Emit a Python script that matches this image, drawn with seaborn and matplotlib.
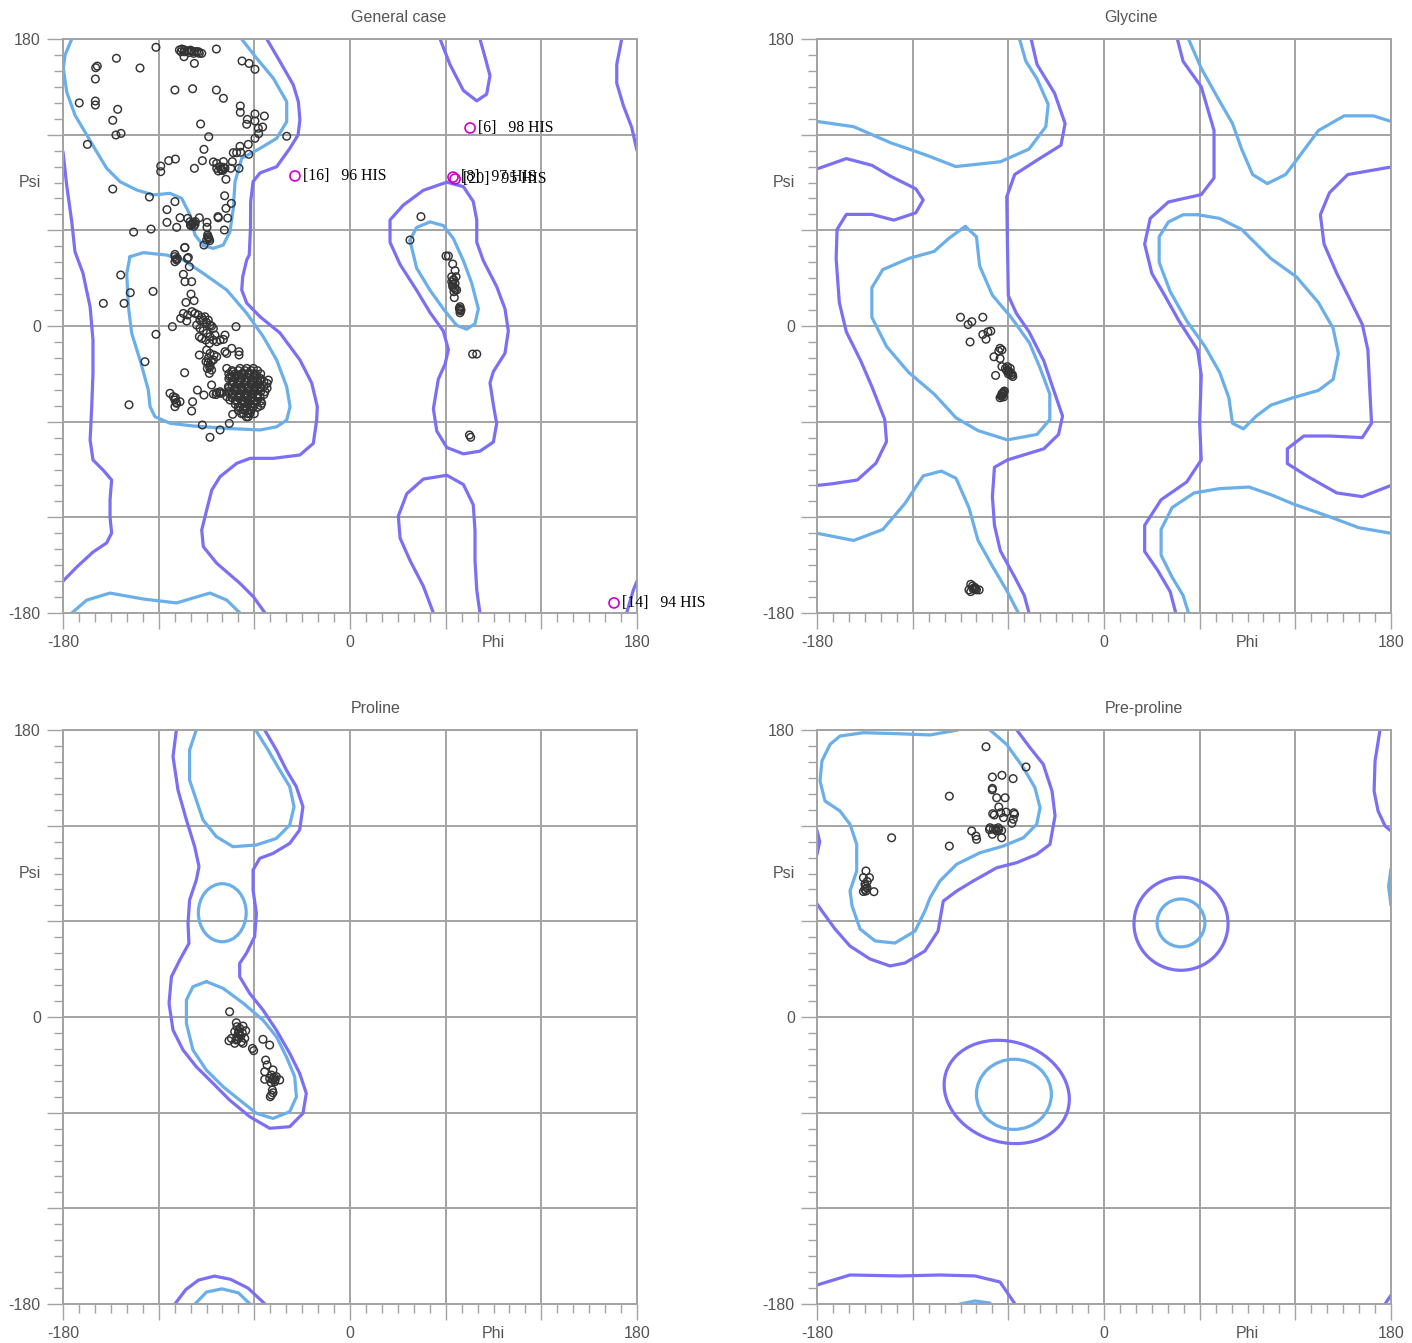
import matplotlib
matplotlib.use("Agg")
import matplotlib.pyplot as plt
from matplotlib.patches import Ellipse
import seaborn as sns
import pandas as pd

# ---------------- contours (phi, psi) ----------------
# General case
gen_outer_left = [(-180, 109.3), (-177.7, 88.4), (-174.5, 65.4), (-172.5, 46.6), (-167.5, 33.2), (-163, 12),
                  (-161.2, -8.8), (-161.2, -29.5), (-162, -50.8), (-163, -71.5), (-161.2, -84), (-154.9, -90.3),
                  (-149.5, -96.6), (-150.5, -109), (-150.5, -119.8), (-149.5, -129.8), (-152.6, -136),
                  (-161.2, -141.8), (-171.4, -151.2), (-180, -160)]
gen_outer_main = [(-52.2, 180), (-43.9, 165.8), (-35.5, 151.1), (-32.4, 140.7), (-31.4, 129.2), (-32.6, 119.8),
                  (-37.6, 111.6), (-46, 99.9), (-56.4, 96), (-60.8, 90.5), (-62.3, 78), (-62.4, 61.5),
                  (-63.2, 44.5), (-64.8, 41.4), (-67.3, 30.9), (-67.9, 22.6), (-64.8, 14.4), (-56.4, 5.8),
                  (-43.9, -4.4), (-31.4, -21.3), (-24, -35.8), (-20.5, -50.6), (-20.9, -59), (-23, -73.6),
                  (-31.4, -80.9), (-48.1, -83), (-62.7, -83), (-71, -86.1), (-81.5, -94.5), (-86.7, -102.9),
                  (-89.9, -115.4), (-93, -128), (-92, -138.4), (-83.6, -148.8), (-69, -161.4), (-60.6, -169.8),
                  (-53.3, -180)]
gen_outer_top = [(56.5, 180), (62.7, 164), (71.1, 147.7), (79.5, 141.2), (85.7, 145.4), (87.8, 157),
                 (84.7, 168.6), (81.5, 180)]
gen_outer_edge = [(170.4, 180), (167.3, 164), (167.3, 152.3), (171.4, 138.4), (176.7, 124.5), (180, 110)]
gen_outer_right = [(60.7, 90.2), (71.1, 87.4), (77.3, 78.1), (79.5, 66.5), (79.5, 52.5), (83.6, 41), (92, 24.7),
                   (97.2, 10.8), (99.3, -3.1), (97.2, -17.1), (89.9, -28.6), (87.8, -35.6), (89.9, -49.5),
                   (92, -61.2), (89.9, -72.8), (81.5, -78.5), (71.1, -80.2), (60.7, -76.2), (54.4, -65.8),
                   (52.3, -51.9), (55.4, -33.3), (59.6, -24), (61.7, -14.8), (58.5, -3.1), (50.2, 8.4),
                   (41.8, 22.4), (31.4, 38.6), (25.1, 52.5), (25.1, 66.5), (33.4, 75.8), (46, 85.1)]
gen_outer_bottom = [(52.3, -180), (46, -163.2), (37.6, -147), (31.4, -133), (30.3, -119.2), (35.6, -105.2),
                    (46, -96), (60.7, -93.6), (71.1, -99.4), (77.3, -112.1), (78.4, -128.4), (78.4, -147),
                    (79.5, -165.6), (81.5, -180)]
gen_outer_corner = [(173.5, -180), (177.7, -165.6), (180, -160)]
gen_inner_top = [(-174.5, 180), (-178.7, 170), (-179.8, 161.8), (-177.7, 146.9), (-172.5, 132.3), (-165.1, 119.8),
                 (-158.9, 109.3), (-152.6, 98.9), (-144.2, 90.5), (-133.8, 85.3), (-123.4, 82.2), (-112.9, 83.2),
                 (-105.6, 80.1), (-100.3, 69.6), (-97.2, 57.1), (-92, 50.4), (-85.7, 48.7), (-79.5, 50.8),
                 (-75.3, 59.1), (-73.2, 73.8), (-72.1, 90.5), (-67.9, 105.2), (-56.4, 111.4), (-46, 117.7),
                 (-39.7, 128.1), (-39.7, 140.7), (-48.1, 155.4), (-58.5, 167.9), (-68, 180)]
gen_inner_mid = [(-138, 43.5), (-129.6, 46), (-115, 44.5), (-104.5, 41.4), (-92, 33), (-77.3, 22.6), (-64.8, 8),
                 (-54.4, -6.7), (-46, -21.3), (-39.7, -38.1), (-37.6, -50.6), (-39.7, -59), (-46, -63.2),
                 (-56.4, -65.2), (-77.3, -64.2), (-98.3, -62.7), (-112.9, -61), (-122.3, -56.9), (-125.4, -50.6),
                 (-126.5, -40.1), (-131.7, -21.3), (-136.9, -4.6), (-139, 12.1), (-140, 33)]
gen_inner_bottom = [(-174.5, -180), (-165.1, -171.9), (-150.5, -167.5), (-129.8, -171.2), (-108.7, -173.7),
                    (-98.5, -170.6), (-87.8, -167.5), (-77.3, -171.9), (-69, -180)]
gen_inner_right = [(37.6, 53.7), (41.8, 61.8), (50.2, 65.3), (58.5, 63), (64.8, 54.9), (71.1, 41), (76.3, 27),
                   (80.5, 10.8), (78.4, 1.5), (73.2, -2), (66.9, 0.4), (58.5, 10.8), (50.2, 22.4), (41.8, 36.3)]

# Glycine
gly_inner_a = [(-180, 128.3), (-157, 125), (-134, 115), (-111, 107), (-93, 100), (-65, 103), (-47, 111),
               (-36.5, 125), (-35, 139), (-42, 155), (-49, 166), (-53, 180)]
gly_outer_b = [(-45.7, 180), (-42, 164), (-31, 146), (-24.4, 127), (-27, 113.4), (-42, 104), (-56, 95), (-61, 81),
               (-60.6, 54), (-60, 19), (-55, 8), (-47, -3.7), (-37.7, -22), (-33, -36), (-26, -56.5),
               (-28.5, -68), (-37.7, -77), (-60.6, -84), (-68.7, -88.6), (-70, -107), (-68.7, -125), (-65, -141),
               (-56, -157.5), (-50, -169), (-47, -180)]
gly_outer_c = [(-180, 98.5), (-161.6, 105), (-145.6, 100.8), (-134, 94), (-118, 86), (-113.4, 79), (-118, 71),
               (-131.8, 66.4), (-145.6, 70), (-161.6, 70), (-167.4, 60.6), (-168, 42.3), (-166, 14.7),
               (-161.6, -3.7), (-152.5, -22), (-145.6, -38), (-137.5, -58.7), (-136.4, -72.5), (-143, -86),
               (-154.7, -96.6), (-170.8, -99), (-180, -100)]
gly_inner_d = [(-87, 62.5), (-80, 56), (-78, 37.7), (-70, 19.3), (-58.3, 5.5), (-46.8, -10.5), (-40, -26.6),
               (-34, -42.7), (-34, -58.7), (-42, -68), (-60.6, -71.4), (-79, -65.6), (-92.8, -57.6),
               (-106.5, -42.7), (-122.6, -29), (-136.4, -12.8), (-145.6, 5.5), (-145.6, 24), (-138.7, 35.4),
               (-122.6, 42.3), (-106.5, 46.8), (-97.4, 54.9)]
gly_inner_e = [(-180, -130), (-157, -134.5), (-138.7, -127.6), (-125, -111.5), (-113.4, -94), (-102, -91),
               (-92.8, -95.5), (-84.7, -114), (-79, -134.5), (-70, -150.6), (-60.6, -166.6), (-53.7, -180)]
gly_outer_f = [(46, 180), (49.6, 166), (61, 150), (69, 122.6), (69, 92.8), (61, 82.4), (40.4, 77.8), (29, 67.5),
               (25.5, 51.4), (30, 33), (38, 19.3), (47, 3.2), (58.7, -15), (61, -31), (60, -61), (61, -84),
               (51.9, -97.8), (35.8, -109), (25.5, -125), (25.5, -141.4), (33.5, -153), (41.5, -166.6), (45, -180)]
gly_inner_g = [(53, 180), (61, 161.6), (72.5, 141), (80.6, 127), (86.3, 111), (93.2, 95), (102.4, 89.3),
               (113.9, 95), (120.7, 104), (134.5, 122.6), (150.6, 131.8), (169, 131.8), (180, 128.3)]
gly_inner_h = [(58.7, 69.8), (72.5, 67.5), (86.3, 60.6), (104.7, 42.3), (120.7, 30.8), (134.5, 14.7),
               (143.7, -1.4), (147, -17.4), (143.7, -33.5), (134.5, -40.4), (118.4, -45), (104.7, -49.6),
               (95.5, -56.5), (87.4, -64.5), (80.6, -61), (78.3, -45), (72.5, -29), (63.3, -12.8), (51.9, 3.2),
               (41.5, 21.6), (34.6, 40), (34.6, 56), (40.4, 65.2), (49.6, 69.8)]
gly_outer_i = [(180, 99.7), (152.9, 95), (141.4, 83.6), (135.7, 69.8), (138, 51.4), (146, 33), (152.9, 19.3),
               (162, 1), (165.5, -15), (166.6, -38), (167.8, -61), (162, -70), (141.4, -69), (125.3, -69),
               (115, -77), (115, -86.3), (127.6, -94.3), (146, -104.7), (162, -107), (180, -100)]
gly_inner_j = [(180, -130), (159.8, -126.5), (141.4, -119.6), (118.4, -111.5), (104.7, -105.8), (91, -101),
               (72.5, -102), (56.5, -104.7), (42.7, -113.9), (35.8, -127.6), (35.8, -143.7), (42.7, -157.5),
               (49.6, -169), (53, -180)]

# Proline
pro_outer = [(-108.9, 180), (-111, 163.3), (-107.9, 142.4), (-102.6, 123.6), (-97.4, 106.8), (-94.7, 94.3),
             (-96.4, 85.9), (-100.6, 73.4), (-101.6, 58.7), (-101, 46.2), (-106.8, 35.7), (-112, 25.3),
             (-113.5, 8.6), (-111, -8.2), (-104.7, -20.7), (-96.4, -31.2), (-85.9, -41.6), (-75.5, -52.1),
             (-62.9, -62.5), (-50.4, -69.8), (-37.8, -68.8), (-29.5, -60.4), (-27.4, -47.9), (-31.6, -35.3),
             (-37.8, -22.8), (-46.2, -8.2), (-54.6, 4.4), (-62.9, 14.8), (-69.2, 25.3), (-69.2, 33.6),
             (-65, 39.9), (-59.8, 50.4), (-58.7, 65), (-60.8, 79.6), (-60.8, 92.2), (-56.6, 99.5),
             (-48.3, 102.6), (-37.8, 108.9), (-31.6, 117.3), (-29.5, 131.9), (-33.7, 144.5), (-39.9, 154.9),
             (-46.2, 167.5), (-53.5, 180)]
pro_inner_top = [(-96.4, 180), (-100.6, 167.5), (-100.6, 148.6), (-96.4, 136.1), (-92.2, 123.6), (-83.8, 113.1),
                 (-73.4, 106.8), (-58.7, 107.9), (-46.2, 112), (-37.8, 120.4), (-35.1, 131.9), (-37.8, 144.5),
                 (-44.1, 154.9), (-51.4, 167.5), (-59.2, 180)]
pro_inner_low = [(-90.1, 22.2), (-79.6, 18), (-66.9, 8.6), (-54.6, -1.9), (-46.2, -12.3), (-39.9, -24.9),
                 (-34.7, -37.4), (-33.6, -50), (-37.8, -59.4), (-48.3, -63.6), (-58.7, -60.4), (-69.2, -52.1),
                 (-79.6, -43.7), (-90.1, -33.3), (-98.5, -20.7), (-102.6, -4), (-102.6, 10.7), (-98.5, 19)]
pro_outer_bottom = [(-109.8, -180), (-103, -171), (-95, -165), (-85, -162.5), (-75, -164.5), (-64, -170),
                    (-53.3, -180)]
pro_inner_bottom = [(-97.2, -180), (-90, -172.5), (-80.3, -170.5), (-70, -173), (-62.7, -180)]
pro_ring = [(-80.1, 65.4, 30, 36.4, 0)]  # centre phi, centre psi, width, height, angle

# Pre-proline
pre_inner_top = [(-91.6, 180), (-109.1, 176.9), (-130, 177.7), (-151, 178.3), (-165.6, 176.2), (-171.8, 171),
                 (-176.9, 160.6), (-178.1, 148), (-175, 135.5), (-165.6, 129.2), (-159.3, 120.9), (-155.1, 108.3),
                 (-155.1, 91.6), (-159.3, 79.1), (-158, 69.6), (-153, 55.2), (-143.6, 47.7), (-131.1, 46.4),
                 (-118.5, 53.9), (-112.3, 66.5), (-109.1, 74.8), (-102.9, 85.3), (-92.4, 95.8), (-77.8, 103),
                 (-63.2, 107.2), (-50.6, 112.4), (-42.2, 120.9), (-40.1, 131.3), (-43.3, 143.8), (-50.6, 156.4),
                 (-61.1, 171), (-71.5, 180)]
pre_outer_top = [(-54.7, 180), (-46.4, 168.9), (-38.1, 158.5), (-32.6, 141.7), (-30.7, 126.1), (-33.9, 108.3),
                 (-42.2, 102), (-54.7, 96.8), (-67.3, 93.6), (-82, 85.3), (-92.4, 79), (-100.8, 72.7),
                 (-104.1, 53.9), (-112.3, 41.4), (-124.8, 33.9), (-134.2, 32), (-146.8, 36.4), (-159.3, 44.5),
                 (-168.7, 55.2), (-176.9, 66.5), (-180, 70.9)]
pre_outer_edge = [(173.1, 180), (170, 160.6), (169.4, 141.7), (171.9, 129.2), (176.3, 119.8), (180, 116.7)]
pre_outer_nub = [(-180, 117), (-178.3, 110), (-180, 102)]
pre_inner_nub = [(180, 93), (178.5, 82), (180, 70)]
pre_outer_bottom = [(-180, -168.1), (-159.3, -161.8), (-127.9, -162.4), (-102.9, -161.8), (-80.9, -162.4),
                    (-65.2, -166.2), (-55.8, -180)]
pre_outer_corner = [(176.3, -180), (180, -174.4)]
pre_inner_bottom = [(-90.3, -180), (-80.9, -178.1), (-71.5, -179.4)]
pre_ring_outer = [(48.3, 58.5, 59, 58.4, 0), (-61, -47, 80, 63, -18)]
pre_ring_inner = [(48.3, 59, 30, 30, 0), (-56.5, -48.5, 47, 44, 0)]

# ---------------- residues (phi, psi) ----------------
gen_pts = [(-121.7, 174.8), (-107, 173.1), (-105.4, 173.7), (-103.7, 173.1), (-102, 172.5), (-99.7, 172.5),
           (-97.8, 172.1), (-96.2, 172.1), (-94.5, 171), (-93, 171), (-104.1, 168.9), (-97.6, 164.7),
           (-106, 172), (-104, 172), (-100, 173), (-98, 171), (-95, 172), (-101, 171.5),
           (-83.8, 173.7), (-67.7, 166.2), (-63.3, 164.7), (-59.6, 161), (-146.5, 167.9), (-159.5, 162),
           (-158.5, 163), (-159.7, 154.9), (-131.7, 161.8), (-109.8, 148), (-98.7, 148.8), (-83.8, 148),
           (-79.4, 142.8), (-169.8, 139.9), (-159.7, 141.1), (-159.7, 138.6), (-145.7, 135.9), (-148.8, 129),
           (-146.8, 119.8), (-143.6, 120.8), (-164.7, 113.9), (-93.7, 126.7), (-88.6, 118.7), (-68.8, 138),
           (-68.8, 134), (-64.4, 129.6), (-64.8, 126.5), (-59.6, 133), (-59.6, 128.6), (-53.7, 131.7),
           (-57.5, 124), (-54.8, 124.8), (-57.3, 120.6), (-59.6, 117.7), (-39.7, 119), (-69, 112.7),
           (-63.8, 113.9), (-73.2, 108.7), (-71.1, 108.7), (-68.6, 108.9), (-63.5, 107.7), (-91.6, 110.8),
           (-92.6, 103.7), (-109.5, 104.7), (-113.7, 103.7), (-118.7, 100.3), (-118.7, 96.8), (-97.6, 98.9),
           (-85.7, 102.9), (-83.6, 102), (-79.4, 103.1), (-73.8, 103.1), (-69.6, 98.9), (-74.8, 98.9),
           (-83.6, 98.9), (-81.5, 99.9), (-79.4, 99.5), (-82.6, 97.2), (-80.5, 97.8), (-78.4, 98.9), (-77.8, 92),
           (-81, 98.5), (-79.8, 97.5),
           (-148.8, 85.9), (-125.8, 80.9), (-109.8, 78), (-114.8, 73), (-114.8, 65), (-108.7, 61.9),
           (-106.6, 67.9), (-124.8, 60.8), (-135.7, 58.9), (-78.6, 81.7), (-74.4, 76.9), (-77.8, 73.8),
           (-82.8, 68.6), (-82.6, 67.9), (-76.7, 67.7), (-89.7, 65), (-89.7, 61.9), (-78.8, 60.2), (-94.5, 67.9),
           (-100.3, 65.4), (-98.7, 64.4), (-97.2, 63.8), (-99.9, 63), (-98.2, 65), (-101.8, 67.5),
           (-99, 64), (-97, 65.5), (-100, 63.5), (-98, 62.5), (-89.3, 57.1),
           (-88.9, 55.4), (-89.9, 53.9), (-88.4, 54.6), (-89, 56), (-88, 53.5), (-91.6, 50.8), (-103.7, 49.1),
           (-109.8, 44.9), (-109.8, 43.5), (-108.7, 41.4), (-109.8, 40.3), (-108.3, 42.4), (-109, 42),
           (-103.5, 49.3), (-102, 42.4),
           (-101.4, 43), (-100.8, 37.2), (-104.5, 32.4), (-103.5, 27.8), (-99.3, 27.8), (-143.8, 32),
           (-137.8, 20.9), (-123.5, 21.7), (-154.7, 14.2), (-141.7, 14.2), (-99.7, 20), (-102.9, 14.8),
           (-97.8, 15.9), (-104.5, 7.9), (-106.2, 4.8), (-102.4, 3.1), (-101.8, 6.9), (-99.1, 9),
           (-97.2, 7.9), (-95.1, 6.9), (-93, 5.4), (-92, 3.7), (-89.9, 2.1), (-87.8, 0.6), (-85.7, -1.5),
           (-86.8, 0), (-88.9, 3.7), (-91, 5.8), (-94.1, 3.7), (-96.2, 0.6), (-94.1, -1.5), (-92, -3),
           (-89.9, -4.6), (-87.8, -6.7), (-85.7, -8.8), (-83.6, -9.8), (-81.5, -8.8), (-79.4, -8.4),
           (-84.7, -5.7), (-94.5, -6.7), (-93, -7.8), (-90.5, -8.8), (-88.2, -10.9), (-78.4, -5.7),
           (-71.5, -0.4), (-111.4, -0.4), (-121.7, -5.2), (-94.5, -18.2), (-89.9, -15.1), (-87.8, -17.2),
           (-88.9, -20.3), (-90.3, -22.4), (-87.8, -24.5), (-89.5, -26.6), (-86.8, -27.6), (-88.2, -29.7),
           (-89, -23), (-88, -26), (-87, -22),
           (-85.7, -21.3), (-83.6, -19.2), (-85.3, -18.2), (-78.4, -16.1), (-77.3, -17.2), (-74.2, -14),
           (-69.6, -16.1), (-69.6, -18.2), (-128.6, -22.4), (-103.7, -29.3),
           (-77.3, -26.6), (-73.2, -28.7), (-69, -26.6), (-64.8, -26.6), (-60.6, -26.6), (-75.3, -31.8),
           (-71.1, -30.7), (-66.9, -29.7), (-62.7, -29.7), (-58.5, -30.7), (-56.4, -33.9), (-51.2, -33.9),
           (-73.2, -35), (-69, -33.9), (-64.8, -33.9), (-60.6, -33.9), (-56.4, -38.1), (-53.3, -41.2),
           (-76.3, -38.1), (-72.1, -38.1), (-67.9, -38.1), (-63.8, -38.1), (-59.6, -38.1), (-73.2, -42.2),
           (-69, -42.2), (-64.8, -42.2), (-60.6, -42.2), (-56.4, -44.3), (-71.1, -46.4), (-66.9, -46.4),
           (-62.7, -46.4), (-58.5, -47.5), (-69, -50.6), (-64.8, -50.6), (-60.6, -50.6), (-66.9, -54.8),
           (-62.7, -54.8), (-63.8, -56.9), (-75.3, -46.4), (-77.3, -44.3), (-55.4, -48.5),
           (-70, -31), (-66, -35), (-62, -36), (-68, -40), (-64, -44), (-60, -40), (-70, -44), (-66, -48),
           (-62, -50), (-58, -44), (-72, -40), (-64, -30), (-60, -31), (-67, -52), (-63, -53), (-57, -36),
           (-74, -32), (-76, -42), (-61, -45),
           (-74, -28), (-70, -28), (-66, -28), (-62, -28), (-58, -28), (-76, -33), (-72, -33), (-68, -33),
           (-64, -33), (-60, -33), (-56, -33), (-52, -36), (-74, -37), (-70, -37), (-66, -37), (-62, -37),
           (-58, -37), (-54, -38), (-76, -41), (-72, -41), (-68, -41), (-64, -41), (-60, -41), (-56, -41),
           (-74, -45), (-70, -45), (-66, -45), (-62, -45), (-58, -45), (-72, -49), (-68, -49), (-64, -49),
           (-60, -49), (-56, -50), (-70, -53), (-66, -53), (-62, -53), (-65, -57),
           (-76, -30), (-72, -30), (-68, -30), (-64, -30), (-60, -30), (-56, -30),
           (-74, -35), (-70, -35), (-66, -35), (-62, -35), (-58, -35), (-54, -35),
           (-76, -39), (-72, -39), (-68, -39), (-64, -39), (-60, -39), (-56, -39), (-52, -39),
           (-74, -43), (-70, -43), (-66, -43), (-62, -43), (-58, -43), (-54, -43),
           (-72, -47), (-68, -47), (-64, -47), (-60, -47), (-56, -47),
           (-70, -51), (-66, -51), (-62, -51), (-58, -51),
           (-68, -55), (-64, -55), (-60, -55),
           (-86.8, -37), (-91.6, -43.3), (-95.7, -40.2), (-85.7, -42.7), (-83.6, -41.8), (-81.5, -41.2),
           (-80.5, -42.2), (-82, -42), (-84, -43), (-112.9, -42.2), (-110.8, -44.3), (-109.8, -46.4),
           (-108.7, -48.5), (-109.8, -50.6), (-109.5, -45), (-109, -48),
           (-106.6, -47.5), (-98.7, -47.5), (-99.3, -53.3), (-73.6, -55.4), (-138.6, -49.4), (-92.6, -62.1),
           (-75.7, -61.1), (-81.5, -65.2), (-87.8, -69.8),
           (44.5, 68.6), (37.6, 53.9), (60.2, 43.9), (61.7, 43.9), (64.4, 38.9), (65.9, 34.7), (63.8, 30.9),
           (64.8, 28.8), (65.9, 26.7), (64.4, 24.7), (66.9, 22.6), (65.2, 21.5), (66.5, 30.9), (63.8, 27.8),
           (64.5, 26), (65, 29), (65.5, 24), (66, 23),
           (65.4, 17.8), (69, 12.1), (69.6, 10), (69, 8.3), (68.6, 11.1), (69.3, 9.5), (68.8, 10.5),
           (76.9, -17.6), (79.5, -17.6), (74.9, -68.4), (75.7, -69.8)]
gly_pts = [(-90, 5.5), (-85.2, 0.9), (-82.9, 2.7), (-76, 5.5), (-84, -10), (-76, -5.3), (-74, -8.3), (-72.8, -3.7),
           (-71, -3.2), (-65.2, -14), (-66, -15.8), (-64, -15), (-69, -19.3), (-65.2, -20.4), (-68, -31),
           (-64, -25.5), (-61.8, -26.6), (-60.6, -27.8), (-59.5, -29), (-58.3, -30.8), (-57.2, -31.7),
           (-60.6, -25.5), (-58.8, -26.6), (-59.5, -28.5), (-58.5, -29.5), (-60, -30), (-61, -28), (-57.5, -30.5),
           (-64, -43.8), (-62.9, -41.5), (-65.2, -45), (-62.5, -40.8),
           (-63.5, -43), (-63.5, -42), (-64.5, -44), (-63, -44.5), (-64, -42.5),
           (-83.6, -162), (-81.7, -164.3), (-80, -165.5), (-78.3, -165.5), (-84.7, -165.5),
           (-82.4, -163), (-81, -164), (-83.6, -166.6), (-82, -165), (-80.5, -164.8)]
pro_pts = [(-75.5, 3.3), (-71.3, -3.6), (-67.1, -5.7), (-65.4, -8.6), (-72.3, -9.2), (-69.2, -11.3), (-74.4, -13.4),
           (-75.9, -14.9), (-71.3, -14.4), (-68.1, -15.5), (-66, -13.4), (-69.2, -7.1), (-70.9, -6.1),
           (-67.1, -16.5), (-72.3, -16.5), (-70, -10), (-68.5, -12), (-71, -12.5), (-69.5, -9), (-67.5, -10),
           (-70.5, -14), (-61.2, -19.7), (-60.4, -21.1), (-54.6, -14), (-50.4, -17.6),
           (-52.9, -27), (-52, -30.1), (-53.5, -34.3), (-48.3, -33.2), (-46.2, -37.4), (-44.1, -39.5),
           (-50.4, -38.5), (-53.5, -39.1), (-49.3, -36.4), (-47.2, -40.6), (-48.5, -39), (-47.5, -38),
           (-49.5, -41), (-47, -39.5), (-48.7, -45.8), (-49.3, -48.9), (-48.3, -47.5), (-50, -50)]
pre_pts = [(-74, 169.5), (-70, 150.5), (-64, 151.6), (-57, 149.5), (-70, 143.4), (-70.1, 142.5), (-67.3, 137.5),
           (-62, 137.5), (-66, 131.7), (-69.8, 127.5), (-68.8, 126.7), (-64.8, 128.1), (-63, 125), (-61.4, 128.5),
           (-56.6, 128.1), (-56.1, 127.1), (-56.9, 124), (-57.8, 121.5), (-71.5, 118.7), (-71.8, 117.5),
           (-69.4, 117.8), (-66.3, 118.7), (-64.2, 117), (-64.2, 112.4), (-70, 114.6), (-67.3, 116.7),
           (-68, 118), (-66, 117.5),
           (-83, 116.7), (-80.3, 113.5), (-79.9, 111.4), (-48.9, 156.8), (-97, 138.5), (-133.2, 112.4),
           (-97, 107.2), (-149.3, 91.6), (-150.9, 87.4), (-147.1, 87.4), (-149.9, 83.2), (-149.3, 79),
           (-144.3, 78.6), (-148.6, 80.9), (-150.9, 78.7), (-149.5, 82), (-148.5, 85), (-150, 80)]

# flagged residues in the general case
hi_phi = [-34.5, 75.3, 64.6, 65.9, 165.6]
hi_psi = [94.1, 124.2, 93.4, 92.2, -173.7]
hi_labels = ["[16]   96 HIS", "[6]   98 HIS", "[8]   97 HIS", "[20]   95 HIS", "[14]   94 HIS"]

INNER = "#6aaeea"
OUTER = "#7a6ff5"
GRID = "#a3a3a3"
TXT = "#555555"
FS = 11.5

sns.set_theme(style="white")
plt.rcParams["font.family"] = ["Liberation Sans", "DejaVu Sans"]

fig = plt.figure(figsize=(14.12, 13.43), dpi=100)
W, H = 574 / 1412, 574 / 1343
positions = [[63 / 1412, 1 - 613 / 1343, W, H], [817 / 1412, 1 - 613 / 1343, W, H],
             [63 / 1412, 1 - 1304 / 1343, W, H], [817 / 1412, 1 - 1304 / 1343, W, H]]


def draw_line(ax, pts, color, closed=False):
    if closed:
        pts = pts + pts[:1]
    d = pd.DataFrame(pts, columns=["phi", "psi"])
    sns.lineplot(data=d, x="phi", y="psi", sort=False, estimator=None, color=color,
                 lw=2.3, ax=ax, solid_capstyle="round", solid_joinstyle="round")


def draw_ring(ax, rings, color):
    for cx, cy, w, h, ang in rings:
        ax.add_patch(Ellipse((cx, cy), w, h, angle=ang, fill=False, ec=color, lw=2.3))


def draw_points(ax, pts):
    d = pd.DataFrame(pts, columns=["phi", "psi"])
    sns.scatterplot(data=d, x="phi", y="psi", ax=ax, s=30, marker="o", facecolors="none",
                    edgecolor="#333333", linewidth=1.05, zorder=4)


def style(ax, title, tx):
    ax.set_xlim(-180, 180)
    ax.set_ylim(-180, 180)
    ax.set_xticks(range(-180, 181, 60))
    ax.set_yticks(range(-180, 181, 60))
    ax.set_xticks(range(-180, 181, 10), minor=True)
    ax.set_yticks(range(-180, 181, 10), minor=True)
    ax.set_xticklabels(["-180", "", "", "0", "", "", "180"])
    ax.set_yticklabels(["-180", "", "", "0", "", "", "180"])
    ax.tick_params(which="major", length=11.5, width=1, color=GRID, labelsize=FS,
                   labelcolor=TXT, pad=4.5, bottom=True, left=True)
    ax.tick_params(which="minor", length=6.5, width=1, color=GRID, bottom=True, left=True)
    ax.grid(True, which="major", color=GRID, lw=1.4)
    for sp in ax.spines.values():
        sp.set_color(GRID)
        sp.set_linewidth(1.4)
    ax.set_xlabel("")
    ax.set_ylabel("")
    ax.annotate("Phi", xy=(90, -180), xytext=(0, -16), textcoords="offset points",
                ha="center", va="top", fontsize=FS, color=TXT)
    ax.annotate("Psi", xy=(-180, 90), xytext=(-16, 0), textcoords="offset points",
                ha="right", va="center", fontsize=FS, color=TXT)
    ax.text(tx, 1.0366, title, transform=ax.transAxes, ha="center", va="center",
            fontsize=FS, color=TXT)


axes = [fig.add_axes(p) for p in positions]

# General case
ax = axes[0]
for c in [gen_inner_top, gen_inner_bottom]:
    draw_line(ax, c, INNER)
draw_line(ax, gen_inner_mid, INNER, closed=True)
draw_line(ax, gen_inner_right, INNER, closed=True)
for c in [gen_outer_left, gen_outer_main, gen_outer_top, gen_outer_edge, gen_outer_bottom, gen_outer_corner]:
    draw_line(ax, c, OUTER)
draw_line(ax, gen_outer_right, OUTER, closed=True)
draw_points(ax, gen_pts)
sns.scatterplot(x=hi_phi, y=hi_psi, ax=ax, s=52, marker="o", facecolors="none",
                edgecolor="#cc00cc", linewidth=1.2, zorder=5)
for p, q, lab in zip(hi_phi, hi_psi, hi_labels):
    ax.annotate(lab, xy=(p, q), xytext=(6, 0), textcoords="offset points", ha="left", va="center",
                fontsize=11.3, color="black", family=["Liberation Serif", "DejaVu Serif"],
                annotation_clip=False, zorder=6)
style(ax, "General case", 0.584)

# Glycine
ax = axes[1]
for c in [gly_inner_a, gly_inner_e, gly_inner_g, gly_inner_j]:
    draw_line(ax, c, INNER)
draw_line(ax, gly_inner_d, INNER, closed=True)
draw_line(ax, gly_inner_h, INNER, closed=True)
for c in [gly_outer_b, gly_outer_c, gly_outer_f, gly_outer_i]:
    draw_line(ax, c, OUTER)
draw_points(ax, gly_pts)
style(ax, "Glycine", 0.547)

# Proline
ax = axes[2]
draw_line(ax, pro_inner_top, INNER)
draw_line(ax, pro_inner_bottom, INNER)
draw_line(ax, pro_inner_low, INNER, closed=True)
draw_ring(ax, pro_ring, INNER)
draw_line(ax, pro_outer, OUTER)
draw_line(ax, pro_outer_bottom, OUTER)
draw_points(ax, pro_pts)
style(ax, "Proline", 0.544)

# Pre-proline
ax = axes[3]
for c in [pre_inner_top, pre_inner_nub, pre_inner_bottom]:
    draw_line(ax, c, INNER)
draw_ring(ax, pre_ring_inner, INNER)
for c in [pre_outer_top, pre_outer_edge, pre_outer_nub, pre_outer_bottom, pre_outer_corner]:
    draw_line(ax, c, OUTER)
draw_ring(ax, pre_ring_outer, OUTER)
draw_points(ax, pre_pts)
style(ax, "Pre-proline", 0.570)

fig.savefig("out.png", dpi=100)
